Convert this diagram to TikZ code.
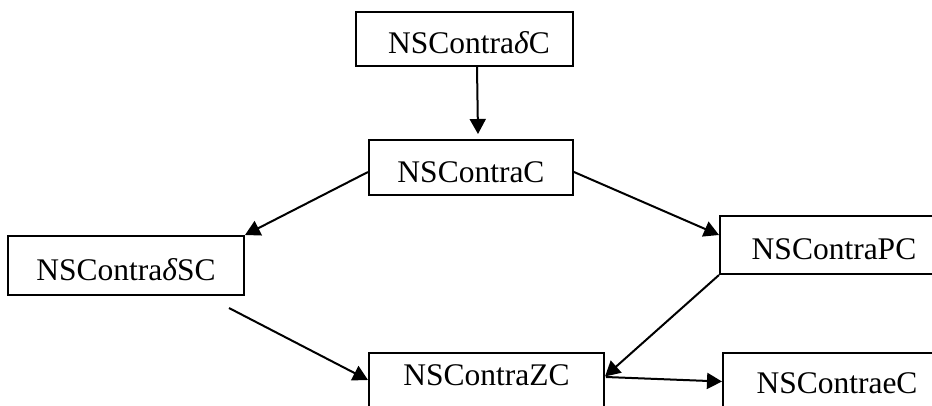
\documentclass[tikz,border=0pt]{standalone}
\usepackage{fontspec}
\setmainfont{Liberation Serif}
\usetikzlibrary{arrows.meta,calc}
\begin{document}
\begin{tikzpicture}[x=1pt,y=-1pt,
  box/.style={draw,line width=2pt,rectangle,inner sep=0pt,
    font=\fontsize{31.5}{36}\selectfont,text height=29pt,text depth=0pt},
  flow/.style={line width=2pt,-{Triangle[length=15pt,width=16pt]}}]
\useasboundingbox (0,0) rectangle (932,405);
\clip (0,0) rectangle (932,405);

% boxes
\node[box,minimum width=217pt,minimum height=54pt] (dc) at (464.5,39) {\hspace{9pt}NSContra{\itshape δ}C};
\node[box,minimum width=204pt,minimum height=55pt] (c) at (471,167.5) {NSContraC};
\node[box,minimum width=236pt,minimum height=59pt] (dsc) at (126,265.5) {NSContra{\itshape δ}SC};
\node[box,minimum width=228pt,minimum height=58pt] (pc) at (834,245) {NSContraPC};
\node[box,minimum width=235pt,minimum height=57pt,text height=20pt,text depth=13pt] (zc) at (486.5,381.5) {NSContraZC\hspace{11pt}};
\node[box,minimum width=228pt,minimum height=57pt,text height=29pt,text depth=6pt] (ec) at (837,381.5) {NSContraeC};

% connectors
\draw[flow] ($(dc.south)+(12.5,0)$) -- ($(c.north)+(7,-5)$);
\draw[flow] ($(c.west)+(0,4.5)$) -- (dsc.north east);
\draw[flow] ($(c.east)+(0,4.5)$) -- ($(pc.west)+(0,-10)$);
\coordinate (dscout) at ($(dsc.south east)+(-16,12)$);
\draw[flow] (dscout) -- ($(zc.west)+(0,-1.5)$);
\draw[flow] (pc.south west) -- ($(zc.east)+(0,-5)$);
\draw[flow] ($(zc.east)+(1,-4.5)$) -- (ec.west);
\end{tikzpicture}
\end{document}
